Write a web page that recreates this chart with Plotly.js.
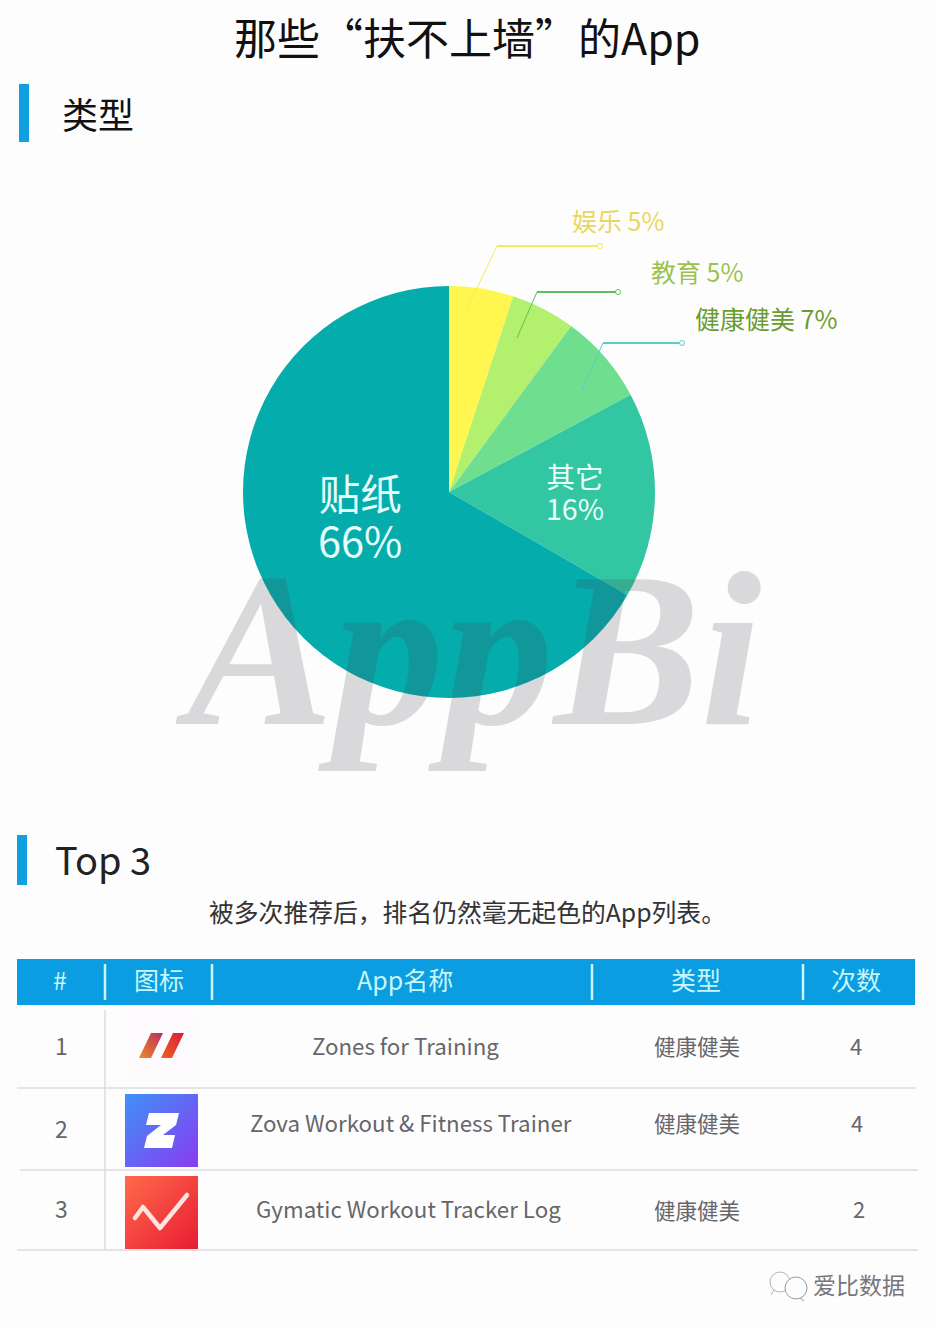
<!DOCTYPE html>
<html>
<head>
<meta charset="utf-8">
<script src="https://cdn.plot.ly/plotly-3.0.1.min.js"></script>
<style>
  html, body { margin: 0; padding: 0; background: #fefdfe; }
  #chart { width: 936px; height: 1327px; }
</style>
</head>
<body>
<div id="chart"></div>
<script>
// chart values
const pieLabels = ['娱乐', '教育', '健康健美', '其它', '贴纸'];
const pieValues = [5, 5, 7, 16, 66];
const pieColors = ['#fff650', '#b2f06e', '#6fdf8f', '#33c6a2', '#04acac'];

const tableHeaders = ['#', '图标', 'App名称', '类型', '次数'];
const rowRanks = ['1', '2', '3'];
const rowNames = ['Zones for Training', 'Zova Workout & Fitness Trainer', 'Gymatic Workout Tracker Log'];
const rowTypes = ['健康健美', '健康健美', '健康健美'];
const rowCounts = ['4', '4', '2'];

// page is 936x1327, everything below is placed in page pixels
const W = 936, H = 1327;
const px = x => x / W;
const py = y => 1 - y / H;
const CJK = '"Noto Sans CJK SC", "Noto Sans", sans-serif';

function label(text, x, y, size, color, anchor) {
  return {
    text: text, xref: 'paper', yref: 'paper', x: px(x), y: py(y),
    xanchor: anchor || 'center', yanchor: 'middle', showarrow: false,
    font: { family: CJK, size: size, color: color }
  };
}
function rect(x0, y0, x1, y1, color) {
  return {
    type: 'rect', xref: 'paper', yref: 'paper', layer: 'below',
    x0: px(x0), x1: px(x1), y0: py(y0), y1: py(y1),
    fillcolor: color, line: { width: 0 }
  };
}
function line(x0, y0, x1, y1, color, width) {
  return {
    type: 'line', xref: 'paper', yref: 'paper', layer: 'above',
    x0: px(x0), x1: px(x1), y0: py(y0), y1: py(y1),
    line: { color: color, width: width }
  };
}
function dot(x, y, r, color, fill) {
  return {
    type: 'circle', xref: 'paper', yref: 'paper', layer: 'above',
    x0: px(x - r), x1: px(x + r), y0: py(y - r), y1: py(y + r),
    fillcolor: fill || '#ffffff', line: { color: color, width: 1 }
  };
}
function icon(svg, x, y, size) {
  return {
    source: 'data:image/svg+xml;utf8,' + encodeURIComponent(svg),
    xref: 'paper', yref: 'paper', x: px(x), y: py(y),
    sizex: size / W, sizey: size / H, sizing: 'stretch',
    xanchor: 'left', yanchor: 'top', layer: 'above'
  };
}

const zonesIcon = `<svg xmlns="http://www.w3.org/2000/svg" viewBox="0 0 73 73">
<defs>
<linearGradient id="a" x1="0" y1="1" x2="1" y2="0"><stop offset="0" stop-color="#ee8a28"/><stop offset="1" stop-color="#b82c62"/></linearGradient>
<linearGradient id="b" x1="0" y1="1" x2="1" y2="0"><stop offset="0" stop-color="#f0601e"/><stop offset="1" stop-color="#d81c40"/></linearGradient>
</defs>
<rect width="73" height="73" fill="#fdfbfd"/>
<path d="M26 23 H38 L26 48 H14 Z" fill="url(#a)"/>
<path d="M48 23 H59 L47 48 H36 Z" fill="url(#b)"/></svg>`;
const zovaIcon = `<svg xmlns="http://www.w3.org/2000/svg" viewBox="0 0 73 73">
<defs><linearGradient id="g" x1="0" y1="0" x2="1" y2="1"><stop offset="0" stop-color="#3f92f8"/><stop offset="1" stop-color="#8a3af0"/></linearGradient></defs>
<rect width="73" height="73" fill="url(#g)"/>
<path d="M24 19 H54 L51 31 L38 41 H50 L47 54 H19 L22 42 L36 31 H21 Z" fill="#ffffff"/></svg>`;
const gymaticIcon = `<svg xmlns="http://www.w3.org/2000/svg" viewBox="0 0 73 73">
<defs><linearGradient id="g" x1="0" y1="0" x2="1" y2="1"><stop offset="0" stop-color="#ff6a4a"/><stop offset="1" stop-color="#e81c34"/></linearGradient></defs>
<rect width="73" height="73" fill="url(#g)"/>
<path d="M10 42 L18 31 L35 52 L62 19" fill="none" stroke="#ffe4e0" stroke-width="4.5" stroke-linecap="round" stroke-linejoin="round"/></svg>`;

// where the pie sits on the page
const pieCx = 449, pieCy = 492, pieR = 206;

// callouts for the three small slices
const calloutColors = ['#f6e95a', '#5cc05c', '#58d0c0'];
const calloutPaths = [
  [[468, 307], [497, 246], [600, 246]],
  [[517, 338], [537, 292], [618, 292]],
  [[582, 390], [603, 343], [682, 343]]
];
const calloutTextColors = ['#e9d75c', '#9cc24e', '#6a9c2e'];
const calloutTextPos = [[570, 220], [649, 271], [693, 318]];

const shapes = [
  rect(19, 84, 29, 142, '#10a0e0'),
  rect(17, 835, 27, 885, '#10a0e0'),
  rect(17, 959, 915, 1005, '#0a9de2')
];
[105, 212, 592, 803].forEach(x => shapes.push(line(x, 964, x, 1000, '#c8f6fa', 2.5)));
shapes.push(line(17, 1088, 916, 1088, '#dcdadf', 1.5));
shapes.push(line(20, 1170, 918, 1170, '#dcdadf', 1.5));
shapes.push(line(17, 1250, 918, 1250, '#dcdadf', 1.5));
shapes.push(line(105, 1010, 105, 1250, '#dcdadf', 1.5));

calloutPaths.forEach((pts, i) => {
  for (let k = 0; k < pts.length - 1; k++) {
    shapes.push(line(pts[k][0], pts[k][1], pts[k + 1][0], pts[k + 1][1], calloutColors[i], k === 0 ? 1 : 2));
  }
  const end = pts[pts.length - 1];
  shapes.push(dot(end[0], end[1], 2.5, calloutColors[i]));
});

// wechat mark in the footer
shapes.push(dot(780, 1282, 10, '#b5b5b8', 'rgba(0,0,0,0)'));
shapes.push(line(774, 1290, 771, 1295, '#b5b5b8', 1));
shapes.push(dot(796, 1288, 11, '#9a9a9e', '#fefdfe'));
shapes.push(line(800, 1298, 804, 1301, '#9a9a9e', 1));

const annotations = [
  label('那些“扶不上墙”的App', 467, 36, 43, '#111111'),
  label('类型', 60, 113, 36, '#111111', 'left'),
  label('Top 3', 53, 858, 38, '#222222', 'left'),
  label('被多次推荐后，排名仍然毫无起色的App列表。', 467, 911, 24.8, '#333333'),
  label('爱比数据', 811, 1284, 23, '#77777b', 'left'),
  label('贴纸<br>' + pieValues[4] + '%', 360, 519, 41.5, '#e6fdfb'),
  label('其它<br>' + pieValues[3] + '%', 575, 494, 28.5, '#eafdf8')
];

calloutTextPos.forEach((p, i) => {
  annotations.push(label(pieLabels[i] + ' ' + pieValues[i] + '%', p[0], p[1], 25, calloutTextColors[i], 'left'));
});

// watermark
annotations.push({
  text: '<b><i>AppBi</i></b>', xref: 'paper', yref: 'paper', x: px(468), y: py(650),
  xanchor: 'center', yanchor: 'middle', showarrow: false,
  font: { family: '"Liberation Serif", serif', size: 220, color: 'rgba(70,70,80,0.2)' }
});

const headerX = [60, 159, 405, 696, 856];
tableHeaders.forEach((h, i) => annotations.push(label(h, headerX[i], 979, 25, '#c8f6fa')));

const rankY = [1045, 1128, 1208];
const nameX = [405, 411, 408], nameY = [1045, 1122, 1208];
const typeY = [1045, 1122, 1209];
const countX = [856, 857, 859], countY = [1045, 1122, 1208];
rowRanks.forEach((r, i) => {
  annotations.push(label(r, 61, rankY[i], 23, '#66666a'));
  annotations.push(label(rowNames[i], nameX[i], nameY[i], 22.3, '#66666a'));
  annotations.push(label(rowTypes[i], 697, typeY[i], 21.5, '#66666a'));
  annotations.push(label(rowCounts[i], countX[i], countY[i], 22, '#66666a'));
});

const data = [{
  type: 'pie',
  labels: pieLabels,
  values: pieValues,
  sort: false,
  direction: 'clockwise',
  rotation: 0,
  textinfo: 'none',
  hoverinfo: 'skip',
  showlegend: false,
  marker: { colors: pieColors, line: { width: 0 } },
  domain: {
    x: [px(pieCx - pieR), px(pieCx + pieR)],
    y: [py(pieCy + pieR), py(pieCy - pieR)]
  }
}];

const layout = {
  width: W,
  height: H,
  margin: { l: 0, r: 0, t: 0, b: 0 },
  paper_bgcolor: '#fefdfe',
  plot_bgcolor: '#fefdfe',
  showlegend: false,
  shapes: shapes,
  annotations: annotations,
  images: [
    icon(zonesIcon, 125, 1010, 73),
    icon(zovaIcon, 125, 1094, 73),
    icon(gymaticIcon, 125, 1176, 73)
  ]
};

Plotly.newPlot('chart', data, layout, { staticPlot: true, displayModeBar: false }).then(gd => {
  // tighten the two-line pie labels, plotly's line height is too open here
  gd.querySelectorAll('.annotation-text tspan.line').forEach(t => {
    if (parseFloat(t.getAttribute('dy')) > 0) t.setAttribute('dy', '1.14em');
  });
});
</script>
</body>
</html>
